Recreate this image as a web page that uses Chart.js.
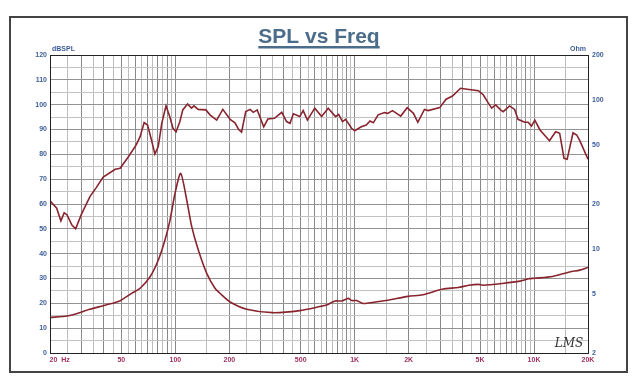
<!DOCTYPE html>
<html>
<head>
<meta charset="utf-8">
<script src="https://cdn.jsdelivr.net/npm/chart.js@4/dist/chart.umd.min.js"></script>
<style>
  body { margin: 0; background: #fff; }
  canvas { display: block; }
</style>
</head>
<body>
<canvas id="splChart" width="638" height="384"></canvas>
<script>
// SPL curve (Hz, dB)
const splFreq = [20, 21.8, 23, 24, 24.9, 26.5, 27.8, 30, 33.4, 36.3, 39.6, 46.2, 49.2, 54.5, 60.5, 63.6, 67, 70, 73.6, 76.9,
  80.3, 84, 88.7, 93, 97, 101, 106, 110, 117, 123, 127, 134, 148, 156, 170, 184, 202, 215, 225, 234,
  247, 261, 272, 286, 311, 328, 357, 392, 417, 436, 455, 494, 516, 545, 599, 654, 712, 782, 814, 855,
  890, 961, 1000, 1089, 1160, 1217, 1270, 1352, 1466, 1530, 1624, 1806, 1962, 2127, 2249, 2449, 2570, 2981, 3233, 3511,
  3892, 4235, 4897, 5220, 5565, 5806, 6110, 6508, 6731, 7312, 7800, 8142, 8873, 9270, 9680, 10100, 10800, 12200, 13200, 13900,
  14700, 15300, 16500, 17300, 18000, 20000];
const splDb = [61.3, 58.3, 53.2, 56.5, 55.6, 51.5, 50, 56, 63, 66.7, 70.8, 74, 74.4, 78.8, 83.8, 87.1, 92.8, 91.8, 85.8, 80.1,
  83.1, 92.5, 99.5, 95.2, 90.5, 89.1, 93.2, 97.9, 100.3, 98.6, 99.5, 98.1, 97.9, 95.9, 93.8, 98.1, 94.1, 92.7, 90.1, 88.9,
  97.2, 98.1, 96.9, 97.9, 91.1, 94.2, 94.5, 96.9, 93.2, 92.5, 96.3, 95.2, 97.6, 93.8, 98.6, 95.2, 98.6, 95.2, 96.1, 93.2,
  94.1, 90.5, 89.5, 91.1, 91.8, 93.4, 92.7, 95.9, 96.8, 96.5, 97.6, 95.4, 98.8, 96.5, 92.9, 98.1, 97.6, 98.8, 102.2, 103.5,
  106.6, 106.2, 105.6, 103.9, 100.6, 98.6, 99.9, 97.9, 97.2, 99.5, 98.1, 94.1, 92.9, 92.9, 91.4, 93.8, 89.8, 85.5, 89.1, 88.5,
  78.4, 78, 88.7, 87.8, 85.5, 78];

// impedance curve (Hz, Ohm)
const impFreq = [20, 25, 33.4, 41, 49, 57, 63.6, 72.3, 80.4, 87.6, 93.4, 99.6, 107.1, 115.7, 123.4, 134.3, 149.6, 166.4, 180, 202,
  250, 348, 494, 641, 697, 777, 846, 921, 960, 1025, 1113, 1215, 1500, 1983, 2400, 3100, 3780, 4320,
  4900, 5200, 6660, 8340, 9300, 10100, 12700, 15800, 18000, 20000];
const impOhm = [3.47, 3.54, 3.93, 4.2, 4.47, 5.03, 5.44, 6.5, 8.42, 11.5, 15.6, 23.6, 32.1, 21.3, 14.1, 9.82, 6.85, 5.44, 4.95, 4.4,
  3.93, 3.73, 3.85, 4.1, 4.2, 4.47, 4.47, 4.65, 4.5, 4.5, 4.3, 4.35, 4.5, 4.8, 4.92, 5.37, 5.5, 5.7,
  5.78, 5.7, 5.86, 6.07, 6.3, 6.35, 6.52, 7.0, 7.2, 7.5];

// axis labels
const freqLabels = { 20: '          20  Hz', 50: '50', 100: '100', 200: '200', 500: '500',
  1000: '1K', 2000: '2K', 5000: '5K', 10000: '10K', 20000: '20K' };
const ohmTicks = [2, 5, 10, 20, 50, 100, 200];

const lineColor = 'rgb(136, 36, 46)';
const blue = '#3d5d99';
const maroon = '#a03060';
const tickFont = { family: 'Liberation Sans, Arial, sans-serif', size: 7, weight: 'bold' };

// grid every half step of each decade
const gridFreqs = [];
[10, 100, 1000, 10000].forEach(base => {
  for (let k = 2; k <= 20; k++) {
    const v = k * base / 2;
    if (v >= 20 && v <= 20000 && gridFreqs.indexOf(v) < 0) gridFreqs.push(v);
  }
});

function isMajor(v) {
  const base = Math.pow(10, Math.floor(Math.log10(v) + 1e-9));
  return Math.abs(v / base - Math.round(v / base)) < 1e-6;
}

const framePlugin = {
  id: 'frame',
  beforeDraw: function(chart) {
    const ctx = chart.ctx;
    ctx.save();
    ctx.fillStyle = '#fff';
    ctx.fillRect(0, 0, chart.width, chart.height);
    ctx.restore();
  },
  afterDraw: function(chart) {
    const ctx = chart.ctx;
    const a = chart.chartArea;
    ctx.save();
    // outer frame
    ctx.strokeStyle = '#444';
    ctx.lineWidth = 2;
    ctx.strokeRect(10, 17, 617, 355);
    // plot border
    ctx.strokeStyle = '#222';
    ctx.lineWidth = 1;
    ctx.strokeRect(a.left + 0.5, a.top + 0.5, a.right - a.left, a.bottom - a.top);
    // title
    ctx.fillStyle = '#4b6d8a';
    ctx.font = 'bold 21px "Liberation Sans", Arial, sans-serif';
    ctx.textAlign = 'center';
    ctx.textBaseline = 'alphabetic';
    ctx.fillText('SPL vs Freq', 319, 43);
    const w = ctx.measureText('SPL vs Freq').width;
    ctx.fillRect(319 - w / 2, 46, w, 2.5);
    // axis units
    ctx.fillStyle = blue;
    ctx.font = 'bold 7px "Liberation Sans", Arial, sans-serif';
    ctx.textAlign = 'left';
    ctx.fillText('dBSPL', 52, 51);
    ctx.textAlign = 'right';
    ctx.fillText('Ohm', 586, 51);
    // logo
    ctx.fillStyle = '#333';
    ctx.font = 'italic 12px "DejaVu Serif", serif';
    ctx.textAlign = 'center';
    ctx.fillText('LMS', 569, 347);
    ctx.restore();
  }
};

const ctx = document.getElementById('splChart').getContext('2d');
const chart = new Chart(ctx, {
  type: 'line',
  data: {
    datasets: [{
      label: 'SPL',
      data: splFreq.map((f, i) => ({ x: f, y: splDb[i] })),
      yAxisID: 'y',
      borderColor: lineColor,
      borderWidth: 1.6,
      pointRadius: 0,
      tension: 0
    }, {
      label: 'Impedance',
      data: impFreq.map((f, i) => ({ x: f, y: impOhm[i] })),
      yAxisID: 'y2',
      borderColor: lineColor,
      borderWidth: 1.6,
      pointRadius: 0,
      tension: 0.25
    }]
  },
  options: {
    responsive: false,
    animation: false,
    layout: { padding: { top: 55, left: 0, right: 0, bottom: 0 } },
    plugins: {
      legend: { display: false },
      tooltip: { enabled: false }
    },
    scales: {
      x: {
        type: 'logarithmic',
        min: 20,
        max: 20000,
        afterBuildTicks: function(scale) {
          scale.ticks = gridFreqs.map(v => ({ value: v }));
        },
        afterFit: function(scale) { scale.height = 31; },
        grid: {
          color: c => isMajor(c.tick.value) ? '#888' : '#bdbdbd',
          drawTicks: false
        },
        border: { color: '#222' },
        ticks: {
          autoSkip: false,
          maxRotation: 0,
          padding: 3,
          color: maroon,
          font: tickFont,
          callback: v => freqLabels[v] || ''
        }
      },
      y: {
        position: 'left',
        min: 0,
        max: 120,
        afterFit: function(scale) { scale.width = 50; },
        grid: {
          color: c => c.tick.value % 10 === 0 ? '#939393' : '#c2c2c2',
          drawTicks: false
        },
        border: { color: '#222' },
        ticks: {
          stepSize: 5,
          padding: 3,
          color: blue,
          font: tickFont,
          callback: v => v % 10 === 0 ? v : ''
        }
      },
      y2: {
        type: 'logarithmic',
        position: 'right',
        min: 2,
        max: 200,
        afterBuildTicks: function(scale) {
          scale.ticks = ohmTicks.map(v => ({ value: v }));
        },
        afterFit: function(scale) { scale.width = 50; },
        grid: { drawOnChartArea: false, drawTicks: false },
        border: { color: '#222' },
        ticks: {
          padding: 4,
          color: blue,
          font: tickFont,
          callback: v => String(v)
        }
      }
    }
  },
  plugins: [framePlugin]
});
</script>
</body>
</html>
